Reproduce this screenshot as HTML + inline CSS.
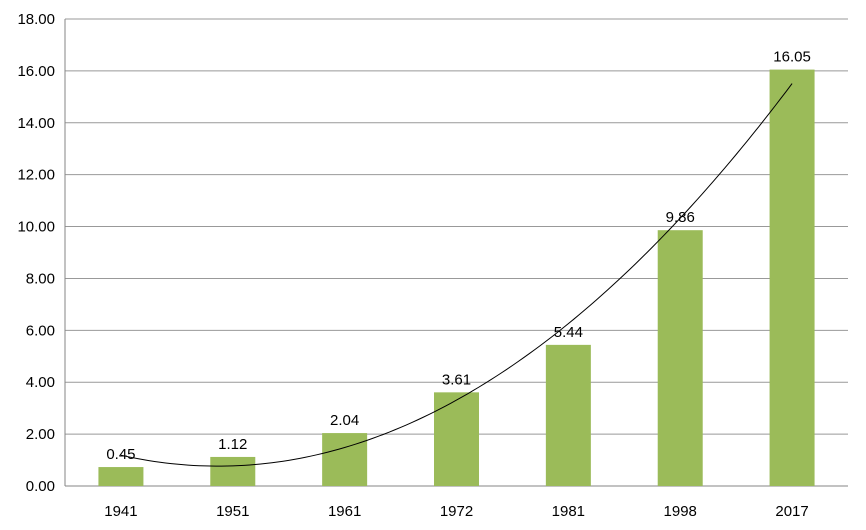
<!DOCTYPE html>
<html><head><meta charset="utf-8"><style>
body{margin:0;background:#fff;}
svg{display:block;font-family:"Liberation Sans",Arial,sans-serif;}
</style></head><body>
<svg id="chart" width="866" height="530" viewBox="0 0 866 530"></svg>
<script>
const categories=["1941","1951","1961","1972","1981","1998","2017"];
const values=[0.73,1.12,2.04,3.61,5.44,9.86,16.05];
const valueLabels=["0.45","1.12","2.04","3.61","5.44","9.86","16.05"];
const yTicks=[0,2,4,6,8,10,12,14,16,18];
const yTickLabels=["0.00","2.00","4.00","6.00","8.00","10.00","12.00","14.00","16.00","18.00"];

const NS="http://www.w3.org/2000/svg";
const svg=document.getElementById('chart');
const L=65,R=848,T=19,B=486,yMax=18;
const band=(R-L)/categories.length;
const xC=i=>L+band*(i+0.5);
const yS=v=>B-(v/yMax)*(B-T);
function mk(tag,attrs,parent){const e=document.createElementNS(NS,tag);for(const k in attrs)e.setAttribute(k,attrs[k]);(parent||svg).appendChild(e);return e;}

yTicks.forEach((t,i)=>{
  const g=mk('line',{x1:L,x2:R,y1:yS(t),y2:yS(t),stroke:i===0?'#868686':'#999',"stroke-width":1});
  
  
  const tx=mk('text',{x:L-10,y:yS(t)+5,"text-anchor":"end","font-size":"15",fill:"#000"});
  tx.textContent=yTickLabels[i];
  
  
});
const ax=mk('line',{x1:L,x2:L,y1:T,y2:B,stroke:'#868686'});



const bw=45;
categories.forEach((c,i)=>{
  const r=mk('rect',{x:xC(i)-bw/2,y:yS(values[i]),width:bw,height:B-yS(values[i]),fill:'#9bbb59'});
  
  
  const vl=mk('text',{x:xC(i),y:yS(values[i])-8,"text-anchor":"middle","font-size":"15",fill:"#000"});
  vl.textContent=valueLabels[i];
  
  
  const xl=mk('text',{x:xC(i),y:B+30,"text-anchor":"middle","font-size":"15",fill:"#000"});
  xl.textContent=c;
  
  
});

// quadratic least-squares trendline
(function(){
  const n=values.length;let S=[0,0,0,0,0],Sy=[0,0,0];
  for(let i=0;i<n;i++){const x=i+1;for(let k=0;k<5;k++)S[k]+=Math.pow(x,k);for(let k=0;k<3;k++)Sy[k]+=values[i]*Math.pow(x,k);}
  const M=[[S[0],S[1],S[2],Sy[0]],[S[1],S[2],S[3],Sy[1]],[S[2],S[3],S[4],Sy[2]]];
  for(let i=0;i<3;i++){for(let j=i+1;j<3;j++){const f=M[j][i]/M[i][i];for(let k=i;k<4;k++)M[j][k]-=f*M[i][k];}}
  const c=[0,0,0];for(let i=2;i>=0;i--){let s=M[i][3];for(let k=i+1;k<3;k++)s-=M[i][k]*c[k];c[i]=s/M[i][i];}
  let d='';for(let s=0;s<=120;s++){const x=1+6*s/120;const v=c[0]+c[1]*x+c[2]*x*x;d+=(s?'L':'M')+(xC(x-1)).toFixed(2)+','+yS(v).toFixed(2);}
  const p=mk('path',{d:d,fill:'none',stroke:'#000',"stroke-width":1});
  
  
})();
</script>
</body></html>
